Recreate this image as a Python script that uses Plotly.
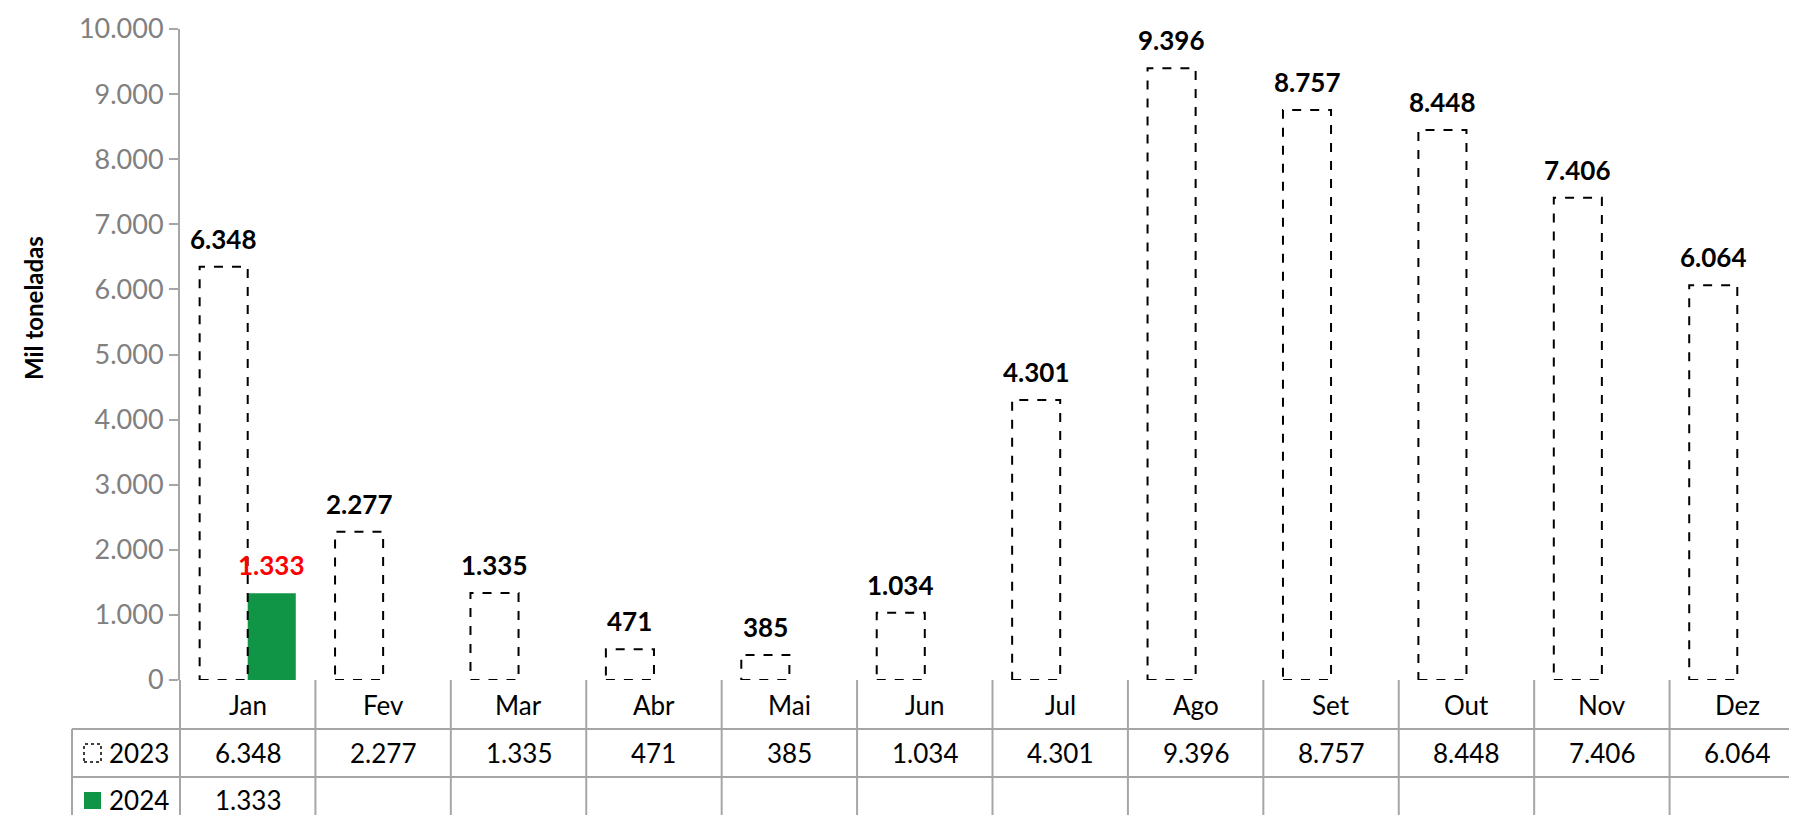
import plotly.graph_objects as go

months = ['Jan', 'Fev', 'Mar', 'Abr', 'Mai', 'Jun', 'Jul', 'Ago', 'Set', 'Out', 'Nov', 'Dez']
vals_2023 = [6348, 2277, 1335, 471, 385, 1034, 4301, 9396, 8757, 8448, 7406, 6064]
vals_2024 = [1333]
y_ticks = [0, 1000, 2000, 3000, 4000, 5000, 6000, 7000, 8000, 9000, 10000]

green = '#109445'
grid = '#A6A6A6'
font = 'Lato'

W, H = 1797, 815
L, T, B = 172, 21, 672
BARGAP = 0.29
BW = (1 - BARGAP) / 2


def py(p):  # pixel y -> paper y
    return (B - p) / (B - T)


def px(p):  # pixel x -> paper x
    return (p - L) / (W - L)


def fmt(v):
    return f'{v:,}'.replace(',', '.')


fig = go.Figure()
fig.add_trace(go.Bar(
    x=months, y=vals_2023, name='2023',
    marker=dict(color='rgba(255,255,255,0)', line=dict(width=0)),
))
fig.add_trace(go.Bar(
    x=months[:len(vals_2024)], y=vals_2024, name='2024',
    marker=dict(color=green, line=dict(width=0)),
))

shapes = []
# dashed outlines for the 2023 bars
for i, v in enumerate(vals_2023):
    shapes.append(dict(type='rect', xref='x', yref='y', x0=i - BW, x1=i, y0=0, y1=v,
                       line=dict(color='black', width=2, dash='dash'), layer='above'))
# vertical table lines
for k in range(13):
    shapes.append(dict(type='line', xref='paper', yref='paper', x0=k / 12, x1=k / 12,
                       y0=0, y1=py(815), line=dict(color=grid, width=2)))
for yy in (721, 769):
    shapes.append(dict(type='line', xref='paper', yref='paper', x0=px(64), x1=1,
                       y0=py(yy), y1=py(yy), line=dict(color=grid, width=2)))
shapes.append(dict(type='line', xref='paper', yref='paper', x0=px(64), x1=px(64),
                   y0=py(721), y1=py(815), line=dict(color=grid, width=2)))
# legend keys
shapes.append(dict(type='rect', xref='paper', yref='paper', x0=px(76), x1=px(93),
                   y0=py(754), y1=py(736), line=dict(color='black', width=1.5, dash='dot'),
                   fillcolor='white'))
shapes.append(dict(type='rect', xref='paper', yref='paper', x0=px(76), x1=px(93),
                   y0=py(801), y1=py(784), line=dict(width=0), fillcolor=green))

ann = []


def txt(x, y, s, **kw):
    d = dict(x=x, y=y, xref='paper', yref='paper', text=s, showarrow=False,
             xanchor='center', yanchor='middle',
             font=dict(size=26, color='black', family=font))
    d.update(kw)
    ann.append(d)


# value labels above the bars
for i, v in enumerate(vals_2023):
    txt(i - BW / 2, v, '<b>%s</b>' % fmt(v), xref='x', yref='y', yanchor='bottom', yshift=10)
for i, v in enumerate(vals_2024):
    txt(i + BW / 2, v, '<b>%s</b>' % fmt(v), xref='x', yref='y', yanchor='bottom', yshift=10,
        font=dict(size=26, color='red', family=font))

for i, m in enumerate(months):
    cx = (i + 0.5) / 12
    txt(cx, py(697), m)
    txt(cx, py(745), fmt(vals_2023[i]))
    if i < len(vals_2024):
        txt(cx, py(792), fmt(vals_2024[i]))
for lbl, yy in (('2023', 745), ('2024', 792)):
    txt(px(99), py(yy), lbl, xanchor='left')
txt(px(25), py(300), '<b>Mil toneladas</b>', textangle=-90,
    font=dict(size=24, color='black', family=font))

fig.update_layout(
    width=W, height=H,
    margin=dict(l=L, r=0, t=T, b=H - B),
    barmode='group', bargap=BARGAP, bargroupgap=0,
    separators=',.',
    showlegend=False,
    plot_bgcolor='white', paper_bgcolor='white',
    shapes=shapes, annotations=ann,
    xaxis=dict(showticklabels=False, showline=False, showgrid=False, ticks='',
               range=[-0.5, 11.5]),
    yaxis=dict(range=[0, 10000], tickvals=y_ticks, tickformat=',d', showgrid=False,
               showline=True, linecolor=grid, linewidth=2, ticks='outside', ticklen=9,
               tickcolor=grid, tickwidth=2,
               tickfont=dict(size=27, color='#808080', family=font)),
    font=dict(family=font),
)
fig.write_html('out.html')
